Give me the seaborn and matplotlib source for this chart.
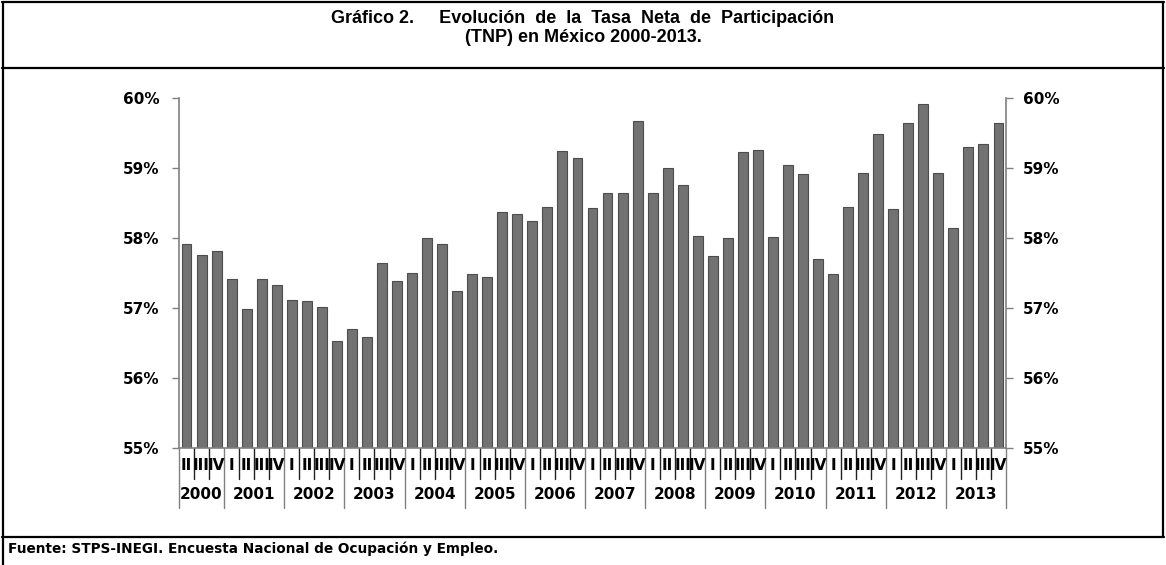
import pandas as pd
import matplotlib.pyplot as plt
import seaborn as sns
from matplotlib.lines import Line2D

# Datos: TNP trimestral (%), 2000-II a 2013-IV
anios = [str(a) for a in range(2000, 2014)]
trimestres = ['I', 'II', 'III', 'IV']
tnp = [57.92, 57.76, 57.82,           # 2000 (II-IV)
       57.42, 56.98, 57.42, 57.33,    # 2001
       57.12, 57.10, 57.01, 56.53,    # 2002
       56.70, 56.58, 57.65, 57.38,    # 2003
       57.50, 58.00, 57.92, 57.25,    # 2004
       57.49, 57.45, 58.37, 58.35,    # 2005
       58.24, 58.44, 59.25, 59.14,    # 2006
       58.43, 58.64, 58.65, 59.67,    # 2007
       58.64, 59.00, 58.76, 58.03,    # 2008
       57.75, 58.00, 59.23, 59.26,    # 2009
       58.02, 59.04, 58.91, 57.70,    # 2010
       57.49, 58.45, 58.93, 59.49,    # 2011
       58.42, 59.65, 59.91, 58.93,    # 2012
       58.14, 59.30, 59.34, 59.65]    # 2013
y_ticks = [55, 56, 57, 58, 59, 60]

titulo = ('Gráfico 2.     Evolución  de  la  Tasa  Neta  de  Participación\n'
          '(TNP) en México 2000-2013.')
fuente = 'Fuente: STPS-INEGI. Encuesta Nacional de Ocupación y Empleo.'

# periodos (2000 empieza en el trimestre II)
per_anio, per_trim = [], []
for a in anios:
    for q in trimestres:
        if a == '2000' and q == 'I':
            continue
        per_anio.append(a)
        per_trim.append(q)

df = pd.DataFrame({'periodo': [f'{a}-{q}' for a, q in zip(per_anio, per_trim)],
                   'anio': per_anio, 'trim': per_trim, 'tnp': tnp})

sns.set_theme(style='white')
plt.rcParams['font.family'] = ['DejaVu Sans']
plt.rcParams['font.weight'] = 'bold'
plt.rcParams['text.color'] = 'black'
plt.rcParams['ytick.labelcolor'] = 'black'
fuente_titulo = ['Liberation Sans Narrow', 'Liberation Sans', 'DejaVu Sans']

fig = plt.figure(figsize=(11.66, 5.65), dpi=100)
ax = fig.add_axes([179 / 1166, 1 - 448 / 565, (1006 - 179) / 1166, 350 / 565])

sns.barplot(data=df, x='periodo', y='tnp', order=df['periodo'], color='#727272',
            edgecolor='#4d4d4d', linewidth=0.8, width=0.66, saturation=1, ax=ax)

n = len(df)
ax.set_xlim(-0.5, n - 0.5)
ax.set_ylim(55, 60)
ax.set_xticks([])
ax.set_xlabel('')
ax.set_ylabel('')
ax.set_yticks(y_ticks)
ax.set_yticklabels([f'{v}%' for v in y_ticks], fontsize=11, fontweight='bold',
                   color='black')
ax.tick_params(axis='y', left=True, length=5, width=1, color='#808080', pad=9)
for s in ['top', 'right']:
    ax.spines[s].set_visible(False)
for s in ['left', 'bottom']:
    ax.spines[s].set_color('#808080')
    ax.spines[s].set_linewidth(1.2)

ax2 = ax.twinx()
ax2.set_ylim(55, 60)
ax2.set_yticks(y_ticks)
ax2.set_yticklabels([f'{v}%' for v in y_ticks], fontsize=11, fontweight='bold',
                    color='black')
ax2.tick_params(axis='y', right=True, length=5, width=1, color='#808080', pad=7)
for s in ['top', 'left', 'bottom']:
    ax2.spines[s].set_visible(False)
ax2.spines['right'].set_color('#808080')
ax2.spines['right'].set_linewidth(1.2)

# etiquetas de trimestre y de año bajo el eje
trx = ax.get_xaxis_transform()
for i, q in enumerate(df['trim']):
    ax.text(i, -0.05, q, transform=trx, ha='center', va='center',
            fontsize=11, fontweight='bold', color='black')
for i in range(n + 1):
    inicio_anio = i == 0 or i == n or df['trim'].iloc[i] == 'I'
    y0 = -0.17 if inicio_anio else -0.088
    ax.plot([i - 0.5, i - 0.5], [0, y0], transform=trx, clip_on=False,
            color='#808080' if inicio_anio else '#222222', lw=1)
for a in anios:
    idx = df.index[df['anio'] == a]
    ax.text((idx.min() + idx.max()) / 2, -0.132, a, transform=trx, ha='center',
            va='center', fontsize=11, fontweight='bold', color='black')

# marco del gráfico
def linea(x0, y0, x1, y1):
    fig.add_artist(Line2D([x0 / 1166, x1 / 1166], [1 - y0 / 565, 1 - y1 / 565],
                          color='black', lw=1.6))

linea(2, 2, 1164, 2)
linea(2, 68, 1164, 68)
linea(2, 537, 1164, 537)
linea(3, 2, 3, 565)
linea(1163, 2, 1163, 537)

fig.text(583 / 1166, 1 - 28 / 565, titulo, ha='center', va='center', color='black',
         fontsize=13, fontweight='bold', linespacing=1.15, family=fuente_titulo)
fig.text(8 / 1166, 1 - 549 / 565, fuente, ha='left', va='center', color='black',
         fontsize=9.8, fontweight='bold')

fig.savefig('out.png', dpi=100)
